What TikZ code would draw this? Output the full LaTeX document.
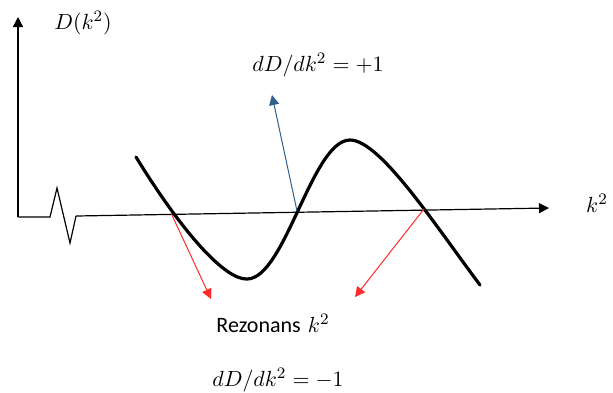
\documentclass[tikz,border=0pt]{standalone}
\usepackage{fontspec}
\newfontfamily\labelfont{Carlito}
\usetikzlibrary{arrows.meta}
\definecolor{slopeblue}{HTML}{2F5F8F}
\definecolor{rootred}{HTML}{FF2A2A}

\begin{document}
\begin{tikzpicture}[x=0.5pt, y=-0.5pt,
  axis/.style={line width=0.6pt, -{Triangle[length=5pt,width=5pt]}},
  curve/.style={line width=1.6pt, line cap=round},
  posarr/.style={draw=slopeblue, line width=0.5pt, -{Triangle[length=5pt,width=5pt]}},
  negarr/.style={draw=rootred, line width=0.5pt, -{Triangle[length=5pt,width=5pt]}},
  lbl/.style={font=\fontsize{11}{13}\selectfont, inner sep=1pt}
]
\useasboundingbox (0,0) rectangle (613,392);
\coordinate (o) at (18,217);
\coordinate (ytip) at (18,17);
\coordinate (z1) at (50,217);
\coordinate (z2) at (57,188);
\coordinate (z3) at (70,243);
\coordinate (z4) at (76,216);
\coordinate (xtip) at (549,208);
\coordinate (cstart) at (136,157);
\coordinate (cmin) at (247,279);
\coordinate (cmax) at (350,140);
\coordinate (cend) at (480,285);
\coordinate (r1) at (171,213);
\coordinate (r2) at (297,211);
\coordinate (r3) at (424,209);
\coordinate (bluetip) at (272,95);
\coordinate (redtip1) at (211,299);
\coordinate (redtip2) at (355,297);
\node[lbl] (dlab) at (83,23) {$D(k^2)$};
\node[lbl] (klab) at (597,203) {$k^2$};
\node[lbl] (plus) at (318,65) {$dD/dk^2=+1$};
\node[lbl] (minus) at (278,380) {$dD/dk^2=-1$};
\node[lbl] (rez) at (273,323) {{\labelfont Rezonans} $k^2$};
\draw[axis] (o) -- (ytip);
\draw[line width=0.6pt] (o) -- (z1) -- (z2) -- (z3) -- (z4);
\draw[axis] (z4) -- (xtip);
\draw[curve] (cstart) .. controls (182,232) and (225,280) .. (cmin)
  .. controls (285,279) and (312,140) .. (cmax)
  .. controls (380,140) and (435,225) .. (cend);
\draw[posarr] (r2) -- (bluetip);
\draw[negarr] (r1) -- (redtip1);
\draw[negarr] (r3) -- (redtip2);
\end{tikzpicture}
\end{document}
